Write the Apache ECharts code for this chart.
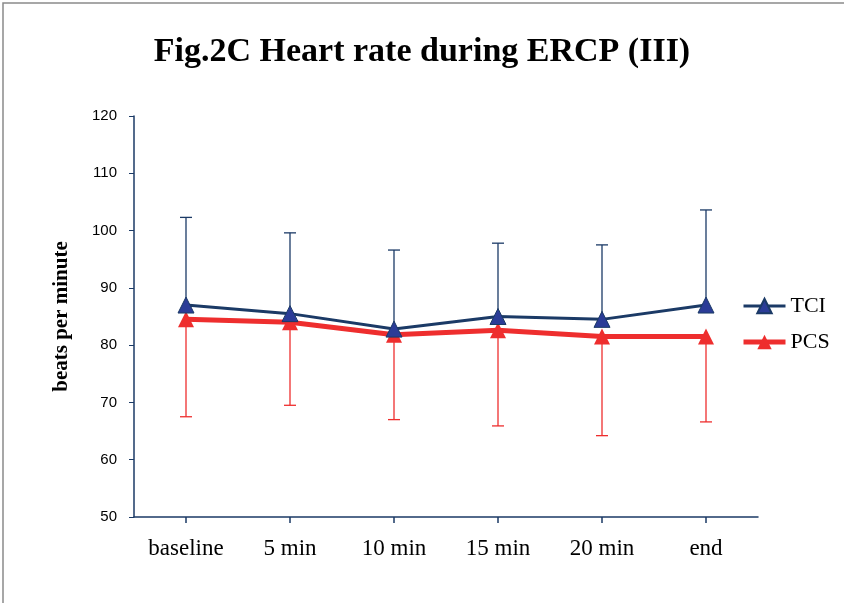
<!DOCTYPE html>
<html>
<head>
<meta charset="utf-8">
<script src="https://cdn.jsdelivr.net/npm/echarts@6/dist/echarts.min.js"></script>
<style>
	html, body { margin: 0; padding: 0; background: #fff; }
	#chart { width: 844px; height: 603px; }
</style>
</head>
<body>
<div id="chart"></div>
<script>
// values
var categories = ['baseline', '5 min', '10 min', '15 min', '20 min', 'end'];
var tciMean = [87, 85.5, 82.8, 85, 84.5, 87];
var tciSd = [15.3, 14.1, 13.8, 12.8, 13, 16.6];
var pcsMean = [84.5, 84, 81.8, 82.6, 81.5, 81.5];
var pcsSd = [17, 14.5, 14.8, 16.7, 17.3, 14.9];
var yTicks = [50, 60, 70, 80, 90, 100, 110, 120];

var navy = '#1b3a66';
var blue = '#2b3c97';
var red = '#ee2e2e';

// error bar: one direction only (TCI up, PCS down)
function errorBar(mean, sd, dir, color) {
	var data = mean.map(function (m, i) {
		return [i, m, m + dir * sd[i]];
	});
	return {
		type: 'custom',
		data: data,
		z: 1,
		silent: true,
		renderItem: function (params, api) {
			var p0 = api.coord([api.value(0), api.value(1)]);
			var p1 = api.coord([api.value(0), api.value(2)]);
			var w = 6;
			return {
				type: 'group',
				children: [
					{type: 'line', shape: {x1: p0[0], y1: p0[1], x2: p1[0], y2: p1[1]}, style: {stroke: color, lineWidth: 1.3}},
					{type: 'line', shape: {x1: p1[0] - w, y1: p1[1], x2: p1[0] + w, y2: p1[1]}, style: {stroke: color, lineWidth: 1.3}}
				]
			};
		}
	};
}

var ec = echarts.init(document.getElementById('chart'));
var option = {
	backgroundColor: '#fff',
	animation: false,
	title: {
		text: 'Fig.2C Heart rate during ERCP (III)',
		left: 'center',
		top: 30,
		textStyle: {
			fontFamily: 'Liberation Serif',
			fontWeight: 'bold',
			fontSize: 34,
			color: '#000'
		}
	},
	graphic: [{
		type: 'rect',
		shape: {x: 3, y: 3, width: 850, height: 610},
		style: {fill: 'none', stroke: '#8a8a8a', lineWidth: 1.5},
		silent: true
	}],
	legend: {
		orient: 'vertical',
		left: 736,
		top: 290,
		itemGap: 14,
		itemWidth: 42,
		itemHeight: 18,
		data: [
			{name: 'TCI', lineStyle: {width: 3}},
			{name: 'PCS', lineStyle: {width: 5}}
		],
		textStyle: {
			fontFamily: 'Liberation Serif',
			fontSize: 22,
			color: '#000'
		}
	},
	grid: {
		left: 134,
		right: 86,
		top: 116,
		bottom: 86
	},
	xAxis: {
		type: 'category',
		data: categories,
		boundaryGap: true,
		axisLine: {lineStyle: {color: navy, width: 1.5}},
		axisTick: {show: true, alignWithLabel: true, length: 6, lineStyle: {color: navy, width: 1.5}},
		axisLabel: {
			margin: 20,
			fontFamily: 'Liberation Serif',
			fontSize: 23,
			color: '#000'
		}
	},
	yAxis: {
		type: 'value',
		min: yTicks[0],
		max: yTicks[yTicks.length - 1],
		interval: 10,
		name: 'beats per minute',
		nameLocation: 'middle',
		nameGap: 62,
		nameTextStyle: {
			fontFamily: 'Liberation Serif',
			fontWeight: 'bold',
			fontSize: 21,
			color: '#000'
		},
		axisLine: {show: true, lineStyle: {color: navy, width: 1.5}},
		axisTick: {show: true, length: 5, lineStyle: {color: navy}},
		splitLine: {show: false},
		axisLabel: {
			margin: 17,
			fontFamily: 'Liberation Sans',
			fontSize: 15,
			color: '#000'
		}
	},
	series: [
		errorBar(tciMean, tciSd, 1, navy),
		errorBar(pcsMean, pcsSd, -1, red),
		{
			name: 'TCI',
			type: 'line',
			data: tciMean,
			z: 3,
			symbol: 'triangle',
			symbolSize: 16,
			lineStyle: {color: navy, width: 3},
			itemStyle: {color: blue, borderColor: navy, borderWidth: 1}
		},
		{
			name: 'PCS',
			type: 'line',
			data: pcsMean,
			z: 2,
			symbol: 'triangle',
			symbolSize: 16,
			lineStyle: {color: red, width: 5},
			itemStyle: {color: red}
		}
	]
};
ec.setOption(option);
</script>
</body>
</html>
